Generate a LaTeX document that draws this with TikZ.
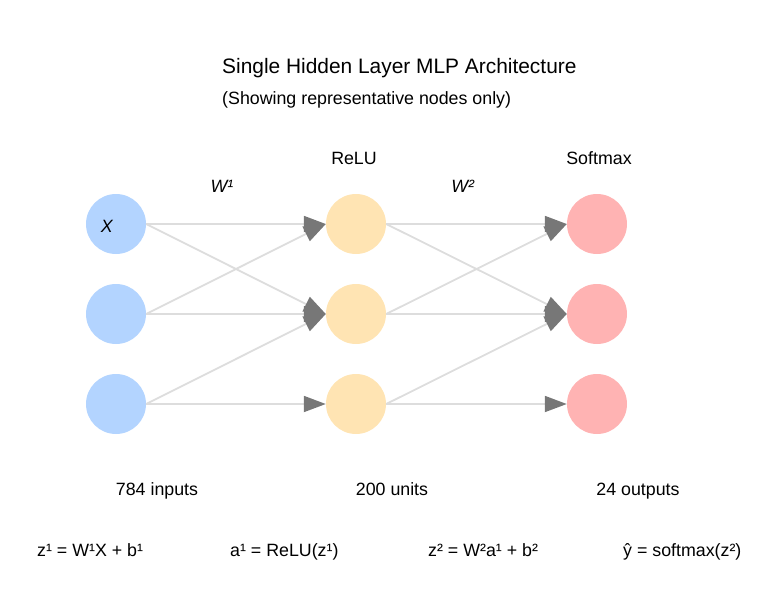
\documentclass[tikz,border=0pt]{standalone}
\usepackage{fontspec}
\setmainfont{Liberation Sans}
\usetikzlibrary{arrows.meta}
\definecolor{inblue}{HTML}{B3D4FF}
\definecolor{hidorange}{HTML}{FFE4B3}
\definecolor{outred}{HTML}{FFB3B3}
\definecolor{edgegray}{HTML}{DDDDDD}
\definecolor{tipgray}{HTML}{777777}
\begin{document}
\begin{tikzpicture}[x=1pt,y=1pt,
  neuron/.style={circle,draw=none,inner sep=0pt,minimum size=60pt},
  innode/.style={neuron,fill=inblue},
  hidnode/.style={neuron,fill=hidorange},
  outnode/.style={neuron,fill=outred},
  conn/.style={draw=edgegray,line width=1.8pt,-{Triangle[length=22pt,width=16pt,color=tipgray]}},
  lbl/.style={inner sep=0pt,font=\fontsize{17.8}{20}\selectfont},
  ttl/.style={inner sep=0pt,font=\fontsize{20.9}{24}\selectfont}
]
\useasboundingbox (0,0) rectangle (771,-605);
% nodes
\node[innode] (i1) at (116,-224) {};
\node[innode] (i2) at (116,-314) {};
\node[innode] (i3) at (116,-404) {};
\node[hidnode] (h1) at (356,-224) {};
\node[hidnode] (h2) at (356,-314) {};
\node[hidnode] (h3) at (356,-404) {};
\node[outnode] (o1) at (597,-224) {};
\node[outnode] (o2) at (597,-314) {};
\node[outnode] (o3) at (597,-404) {};
% connectors
\draw[conn] (i1.east) -- (h1.west);
\draw[conn] (i1.east) -- (h2.west);
\draw[conn] (i2.east) -- (h1.west);
\draw[conn] (i2.east) -- (h2.west);
\draw[conn] (i3.east) -- (h2.west);
\draw[conn] (i3.east) -- (h3.west);
\draw[conn] (h1.east) -- (o1.west);
\draw[conn] (h1.east) -- (o2.west);
\draw[conn] (h2.east) -- (o1.west);
\draw[conn] (h2.east) -- (o2.west);
\draw[conn] (h3.east) -- (o2.west);
\draw[conn] (h3.east) -- (o3.west);
% texts
\node[ttl,anchor=base west] (title) at (222,-73) {Single Hidden Layer MLP Architecture};
\node[lbl,anchor=base west] (sub) at (222,-104) {(Showing representative nodes only)};
\node[lbl,anchor=base] (relu) at (354,-164) {ReLU};
\node[lbl,anchor=base] (softmax) at (599,-164) {Softmax};
\node[lbl,anchor=base] (w1) at (222,-192) {\textit{W¹}};
\node[lbl,anchor=base] (w2) at (463,-192) {\textit{W²}};
\node[lbl,anchor=base] (xlbl) at (107,-232) {\textit{X}};
\node[lbl,anchor=base] (nin) at (157,-495) {784 inputs};
\node[lbl,anchor=base] (nhid) at (392,-495) {200 units};
\node[lbl,anchor=base] (nout) at (638,-495) {24 outputs};
\node[lbl,anchor=base west] (eq1) at (37,-556) {z¹ = W¹X + b¹};
\node[lbl,anchor=base west] (eq2) at (230,-556) {a¹ = ReLU(z¹)};
\node[lbl,anchor=base west] (eq3) at (428,-556) {z² = W²a¹ + b²};
\node[lbl,anchor=base west] (eq4) at (623,-556) {ŷ = softmax(z²)};
\end{tikzpicture}
\end{document}
